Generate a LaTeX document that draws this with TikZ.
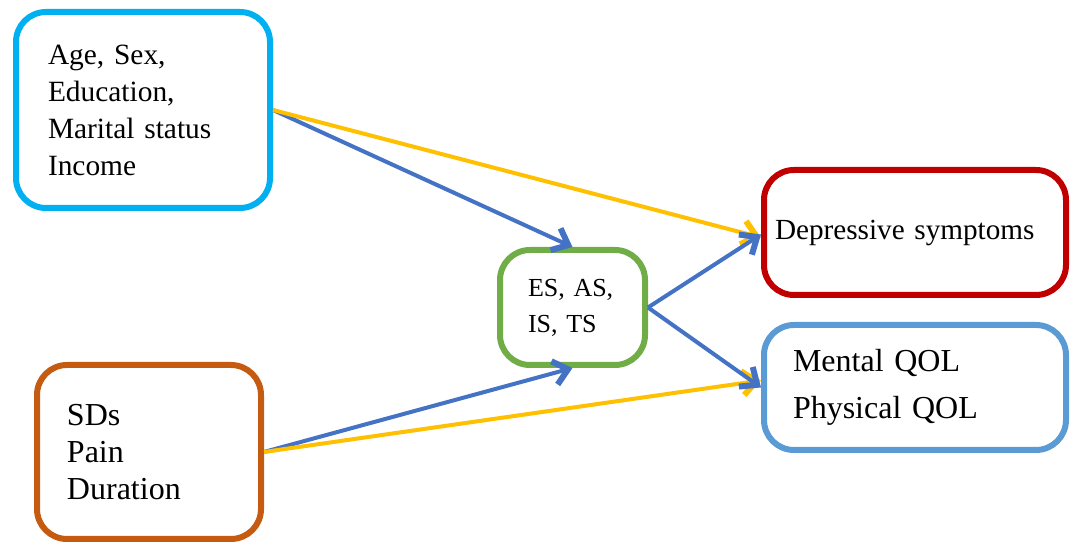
\documentclass[tikz,border=0pt]{standalone}
\usepackage{fontspec}
\setmainfont{Liberation Serif}
\frenchspacing
\usetikzlibrary{arrows.meta}
\definecolor{boxcyan}{HTML}{00B0F0}
\definecolor{boxbrown}{HTML}{C55A11}
\definecolor{boxgreen}{HTML}{70AD47}
\definecolor{boxred}{HTML}{C00000}
\definecolor{boxblue}{HTML}{5B9BD5}
\definecolor{arrowblue}{HTML}{4472C4}
\definecolor{arrowyellow}{HTML}{FFC000}
\begin{document}
\begin{tikzpicture}[x=0.5pt, y=-0.5pt,
  varbox/.style={draw, line width=3pt, rounded corners=15pt, align=left, inner ysep=0pt},
  bluearrow/.style={draw=arrowblue, line width=2pt, -{Straight Barb[length=7pt,width=12pt,line width=3pt]}},
  yellowarrow/.style={draw=arrowyellow, line width=2pt, -{Straight Barb[length=7pt,width=12pt,line width=3pt]}}]
\useasboundingbox (0,0) rectangle (1073,544);
% boxes
\node[varbox, draw=boxcyan, text width=95pt, inner xsep=16pt, minimum height=98pt,
  font=\fontsize{14.7}{18.5}\selectfont] (demo) at (143,110)
  {Age, Sex,\\Education,\\Marital status\\Income};
\node[varbox, draw=boxbrown, text width=82pt, inner xsep=15pt, minimum height=87pt,
  font=\fontsize{16}{18.5}\selectfont] (clin) at (149,452)
  {SDs\\Pain\\Duration};
\node[varbox, draw=boxgreen, text width=44.5pt, inner xsep=14pt, minimum height=57.5pt,
  font=\fontsize{13}{18}\selectfont] (strat) at (572.5,307.5)
  {ES, AS,\\IS, TS};
\node[varbox, draw=boxred, text width=140pt, inner xsep=5.5pt, minimum height=62.5pt,
  font=\fontsize{14.6}{18}\selectfont] (dep) at (915,232.5)
  {Depressive symptoms};
\node[varbox, draw=boxblue, text width=122pt, inner xsep=14.5pt, minimum height=62.5pt,
  font=\fontsize{16}{23.5}\selectfont] (qol) at (915,387.5)
  {Mental QOL\\Physical QOL};
% paths
\draw[bluearrow] (demo.east) -- (strat.north);
\draw[yellowarrow] (demo.east) -- ([yshift=-2.5pt]dep.west);
\draw[bluearrow] (clin.east) -- (strat.south);
\draw[yellowarrow] (clin.east) -- ([yshift=3.5pt]qol.west);
\draw[bluearrow] (strat.east) -- ([yshift=-1pt]dep.west);
\draw[bluearrow] (strat.east) -- (qol.west);
\end{tikzpicture}
\end{document}
